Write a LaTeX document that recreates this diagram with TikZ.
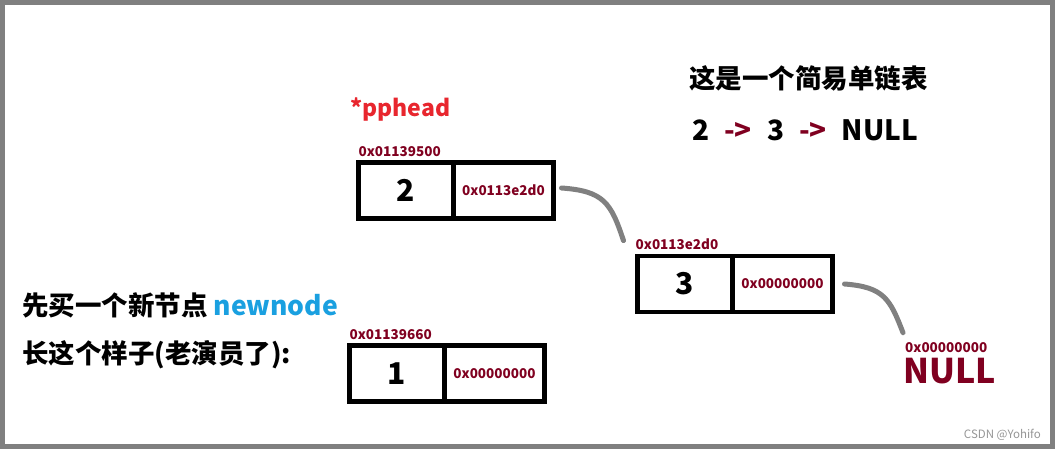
\documentclass[tikz,border=0pt]{standalone}
\usepackage{fontspec}
\setmainfont{Noto Sans CJK SC}
\usetikzlibrary{positioning}
\definecolor{addrred}{RGB}{128,0,32}
\definecolor{headred}{RGB}{232,38,46}
\definecolor{nodeblue}{RGB}{26,160,224}
\definecolor{framegray}{RGB}{128,128,128}
\definecolor{markgray}{RGB}{150,150,150}

\begin{document}
\begin{tikzpicture}[
  x=1pt, y=-1pt,
  valcell/.style={draw, line width=4.5pt, minimum width=95pt, minimum height=56pt, outer sep=0pt, inner sep=0pt, font=\bfseries\fontsize{30}{30}\selectfont},
  ptrcell/.style={draw, line width=4.5pt, minimum width=100pt, minimum height=56pt, outer sep=0pt, inner sep=0pt, text=addrred, font=\bfseries\fontsize{13.5}{13.5}\selectfont},
  addr/.style={inner sep=0pt, text=addrred, font=\bfseries\fontsize{13.5}{13.5}\selectfont},
  title/.style={inner sep=0pt, anchor=west, font=\bfseries\fontsize{26.5}{26.5}\selectfont},
  link/.style={draw=framegray, line width=5pt, line cap=round}
]

% frame
\fill[framegray] (0,0) rectangle (1055,449);
\fill[white] (5,5) rectangle (1050,444);
\useasboundingbox (0,0) rectangle (1055,449);

% node 2 (head)
\node[valcell] (val2) at (406,190.5) {2};
\node[ptrcell, right=0pt of val2] (ptr2) {0x0113e2d0};
\node[addr, above=6pt of val2.north west, anchor=south west] (addr2) {0x01139500};
\node[inner sep=0pt, anchor=base west, text=headred, font=\bfseries\fontsize{23}{23}\selectfont] (head) at (350,117) {*pphead};

% node 3
\node[valcell] (val3) at (685,284) {3};
\node[ptrcell, right=0pt of val3] (ptr3) {0x00000000};
\node[addr, above=6pt of val3.north west, anchor=south west, xshift=-2pt] (addr3) {0x0113e2d0};

% NULL
\node[addr, anchor=west] (nulladdr) at (905,348) {0x00000000};
\node[inner sep=0pt, anchor=north west, text=addrred, font=\bfseries\fontsize{34}{34}\selectfont] (nulltxt) at (903,358) {NULL};

% links
\draw[link] ([xshift=8pt,yshift=2.5pt]ptr2.east) .. controls (604,191) and (611,203) .. ([xshift=-12pt,yshift=-2pt]addr3.north west);
\draw[link] ([xshift=12pt]ptr3.east) .. controls (884,287) and (890,299) .. ([xshift=-2pt,yshift=10pt]nulladdr.north west);

% new node 1
\node[valcell] (val1) at (397,373.5) {1};
\node[ptrcell, right=0pt of val1] (ptr1) {0x00000000};
\node[addr, above=6pt of val1.north west, anchor=south west] (addr1) {0x01139660};

% texts
\node[title] (list) at (689,78) {这是一个简易单链表};
\node[title, font=\bfseries\fontsize{28}{28}\selectfont] (chain) at (692,130) {2\hspace{15pt}\textcolor{addrred}{->}\hspace{15pt}3\hspace{15pt}\textcolor{addrred}{->}\hspace{15pt}NULL};
\node[title] (buy) at (22,305) {先买一个新节点 \textcolor{nodeblue}{newnode}};
\node[title] (look) at (22,355) {长这个样子(老演员了):};
\node[inner sep=0pt, anchor=east, text=markgray, font=\fontsize{11.5}{11.5}\selectfont] (mark) at (1041,435) {CSDN @Yohifo};

\end{tikzpicture}
\end{document}
